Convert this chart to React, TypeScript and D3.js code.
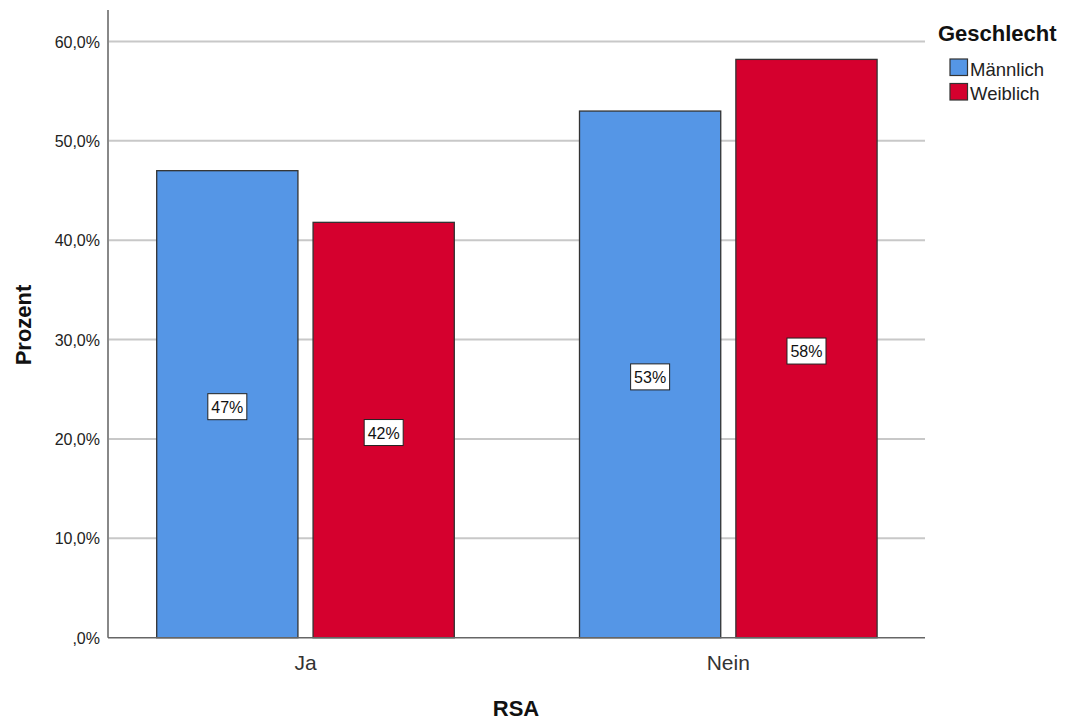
import React from "react";
import * as d3 from "d3";

const categories = ["Ja", "Nein"];
const groups = ["Männlich", "Weiblich"];
const maennlich = [47.0, 53.0];
const weiblich = [41.8, 58.2];
const yTicks = [0, 10, 20, 30, 40, 50, 60];
const labelsM = ["47%", "53%"];
const labelsW = ["42%", "58%"];

const colors = ["#5596E6", "#D5002E"];
const FONT = "'Liberation Sans', Arial, sans-serif";

export default function App() {
  const W = 1069, H = 724;
  const plotLeft = 108, plotRight = 925, plotTop = 10, plotBottom = 637.7;
  const y = d3.scaleLinear().domain([0, 60]).range([plotBottom, 41.5]);
  const x = d3.scaleBand<string>().domain(categories).range([94.1, 939.7]).paddingInner(0).paddingOuter(0);
  const groupWidth = 297.6;
  const xg = d3.scaleBand<string>().domain(groups).range([0, groupWidth]).paddingInner(14.4 / 297.6 * 2).paddingOuter(0);
  const series = [maennlich, weiblich];
  const labels = [labelsM, labelsW];
  const fmt = (v: number) => (v === 0 ? ",0%" : d3.format(".1f")(v).replace(".", ",") + "%");

  return (
    <svg width={W} height={H} style={{ position: "absolute", left: 0, top: 0, background: "#fff" }} fontFamily={FONT}>
      <rect x={0} y={0} width={W} height={H} fill="#fff" />
      {yTicks.filter((t) => t > 0).map((t) => (
        <line key={"g" + t} x1={plotLeft} x2={plotRight} y1={y(t)} y2={y(t)} stroke="#c8c8c8" strokeWidth={2} />
      ))}
      {yTicks.map((t) => (
        <text key={"t" + t} x={100} y={y(t) + 6} textAnchor="end" fontSize={16} fill="#222">
          {fmt(t)}
        </text>
      ))}
      {categories.map((c, ci) => {
        const cx = x(c)! + x.bandwidth() / 2;
        const gx = cx - groupWidth / 2;
        return (
          <g key={c}>
            {groups.map((g, gi) => {
              const v = series[gi][ci];
              const bx = gx + xg(g)!;
              const bw = xg.bandwidth();
              const top = y(v);
              const mid = (top + y(0)) / 2 + 2.5;
              return (
                <g key={g}>
                  <rect x={bx} y={top} width={bw} height={y(0) - top} fill={colors[gi]} stroke="#333" strokeWidth={1.3} />
                  <rect x={bx + bw / 2 - 19.5} y={mid - 13} width={39} height={26} fill="#fff" stroke="#222" strokeWidth={1} />
                  <text x={bx + bw / 2} y={mid + 6} textAnchor="middle" fontSize={16} fill="#111">
                    {labels[gi][ci]}
                  </text>
                </g>
              );
            })}
            <text x={cx} y={670} textAnchor="middle" fontSize={21} fill="#333">
              {c}
            </text>
          </g>
        );
      })}
      <line x1={plotLeft} x2={plotLeft} y1={plotTop} y2={plotBottom} stroke="#888" strokeWidth={2} />
      <line x1={plotLeft} x2={plotRight} y1={plotBottom} y2={plotBottom} stroke="#666" strokeWidth={1.5} />
      <text x={516} y={716} textAnchor="middle" fontSize={22} fontWeight="bold" fill="#111">RSA</text>
      <text transform={`translate(31,325) rotate(-90)`} textAnchor="middle" fontSize={22} fontWeight="bold" fill="#111">Prozent</text>
      <text x={938} y={41} fontSize={22} fontWeight="bold" fill="#111">Geschlecht</text>
      {groups.map((g, gi) => (
        <g key={"l" + g}>
          <rect x={950} y={59 + gi * 24.5} width={17.5} height={16.5} fill={colors[gi]} stroke="#333" strokeWidth={1.2} />
          <text x={970} y={75.5 + gi * 24.5} fontSize={18.5} fill="#222">{g}</text>
        </g>
      ))}
    </svg>
  );
}
